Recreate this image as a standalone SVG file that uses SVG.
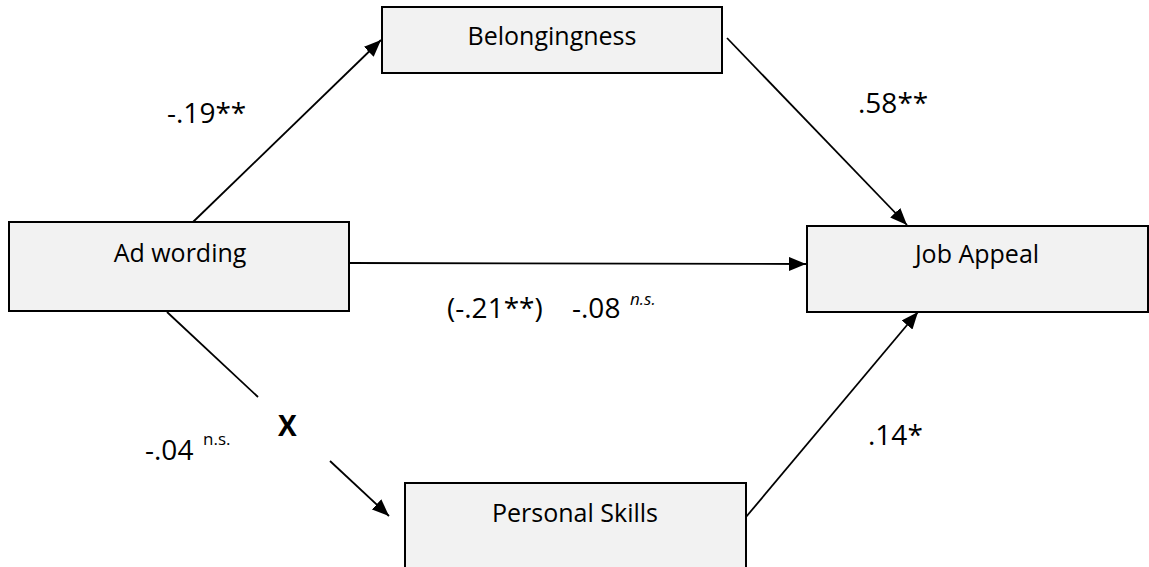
<svg xmlns="http://www.w3.org/2000/svg" width="1149" height="567" viewBox="0 0 1149 567">
<style>
.box{fill:#f2f2f2;stroke:#000;stroke-width:2}
.nt{font-family:"Open Sans","Liberation Sans",sans-serif;font-size:25px;fill:#000;text-anchor:middle}
.lb{font-family:"Open Sans","Liberation Sans",sans-serif;font-size:28px;fill:#000}
.sup{font-family:"Open Sans","Liberation Sans",sans-serif;font-size:17px;fill:#000}
.ln{stroke:#000;stroke-width:1.8;fill:none}
</style>
<defs>
<marker id="ah" markerUnits="userSpaceOnUse" markerWidth="18" markerHeight="14" refX="17" refY="7" orient="auto">
<path d="M0,0 L17,7 L0,14 Z" fill="#000"/>
</marker>
</defs>
<rect width="1149" height="567" fill="#fff"/>
<g id="connectors">
<line class="ln" x1="193" y1="222" x2="381" y2="40" marker-end="url(#ah)"/>
<line class="ln" x1="727" y1="38" x2="907" y2="225" marker-end="url(#ah)"/>
<line class="ln" x1="350" y1="263" x2="806" y2="264" marker-end="url(#ah)"/>
<line class="ln" x1="167" y1="312" x2="258" y2="397"/>
<line class="ln" x1="330" y1="461" x2="389" y2="516" marker-end="url(#ah)"/>
<line class="ln" x1="746" y1="517" x2="918" y2="312" marker-end="url(#ah)"/>
</g>
<g id="belongingness">
<rect class="box" x="382" y="7" width="340" height="66"/>
<text class="nt" x="552" y="45">Belongingness</text>
</g>
<g id="ad-wording">
<rect class="box" x="9" y="222" width="340" height="89"/>
<text class="nt" x="180" y="262">Ad wording</text>
</g>
<g id="job-appeal">
<rect class="box" x="807" y="226" width="341" height="86"/>
<text class="nt" x="977" y="263">Job Appeal</text>
</g>
<g id="personal-skills">
<rect class="box" x="405" y="483" width="341" height="90"/>
<text class="nt" x="575" y="522">Personal Skills</text>
</g>
<g id="labels">
<text class="lb" x="167" y="123">-.19**</text>
<text class="lb" x="858" y="113">.58**</text>
<text class="lb" x="447" y="318">(-.21**)</text>
<text class="lb" x="572" y="318">-.08</text>
<text class="sup" x="630" y="305" font-style="italic">n.s.</text>
<text class="lb" x="145" y="460">-.04</text>
<text class="sup" x="203" y="445">n.s.</text>
<text class="lb" x="278" y="436" font-weight="bold" font-size="33">X</text>
<text class="lb" x="868" y="445">.14*</text>
</g>
</svg>
